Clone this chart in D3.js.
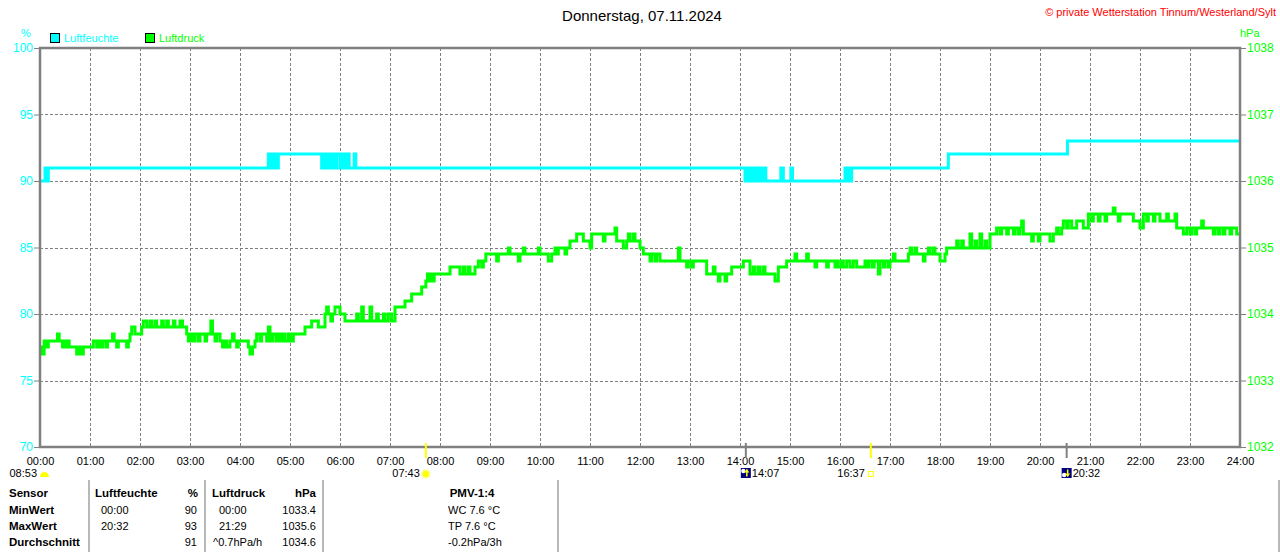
<!DOCTYPE html>
<html>
<head>
    <meta charset="utf-8">
    <title>Donnerstag, 07.11.2024</title>
    <script src="https://cdnjs.cloudflare.com/ajax/libs/d3/7.8.5/d3.min.js"></script>
    <style>
        body { margin: 0; background: #fff; }
        svg { display: block; font-family: "Liberation Sans", Arial, sans-serif; }
    </style>
</head>
<body>
    <div id="chart"></div>

    <script>
        // ---- data ----
        const title = "Donnerstag, 07.11.2024"
        const copyright = "© private Wetterstation Tinnum/Westerland/Sylt"
        const hourLabels = ["00:00", "01:00", "02:00", "03:00", "04:00", "05:00", "06:00", "07:00", "08:00",
            "09:00", "10:00", "11:00", "12:00", "13:00", "14:00", "15:00", "16:00", "17:00", "18:00",
            "19:00", "20:00", "21:00", "22:00", "23:00", "24:00"]
        const humTicks = [70, 75, 80, 85, 90, 95, 100]
        const pressTicks = [1032, 1033, 1034, 1035, 1036, 1037, 1038]

        // humidity %, [minute of day, value] change points
        const humidity = [[0, 90], [6, 91], [7, 90], [8, 91], [9, 90], [10, 91],
            [274, 92], [276, 91], [278, 92], [280, 91], [282, 92], [284, 91], [286, 92],
            [338, 91], [340, 92], [343, 91], [345, 92], [348, 91], [350, 92], [353, 91], [356, 92],
            [360, 91], [363, 92], [366, 91], [368, 92], [371, 91], [377, 92], [379, 91],
            [846, 90], [848, 91], [850, 90], [853, 91], [855, 90], [858, 91], [860, 90], [863, 91],
            [866, 90], [869, 91], [871, 90], [889, 91], [892, 90], [901, 91], [903, 90],
            [966, 91], [968, 90], [970, 91], [972, 90], [974, 91],
            [1090, 92], [1233, 93], [1440, 93]]

        // pressure hPa, [minute of day, value] change points
        const pressure = [[0, 1033.4], [2, 1033.5], [3, 1033.4], [5, 1033.6], [8, 1033.5], [10, 1033.6],
            [21, 1033.7], [23, 1033.6], [27, 1033.5], [29, 1033.6], [31, 1033.5], [33, 1033.6], [35, 1033.5],
            [44, 1033.4], [47, 1033.5], [49, 1033.4], [52, 1033.5], [64, 1033.6], [68, 1033.5], [70, 1033.6],
            [73, 1033.5], [75, 1033.6], [79, 1033.5], [81, 1033.6], [87, 1033.7], [89, 1033.6], [92, 1033.5],
            [94, 1033.6], [104, 1033.5], [106, 1033.6], [108, 1033.7], [110, 1033.8], [114, 1033.7],
            [122, 1033.8], [124, 1033.9], [128, 1033.8], [132, 1033.9], [134, 1033.8], [138, 1033.9],
            [140, 1033.8], [146, 1033.9], [148, 1033.8], [152, 1033.9], [154, 1033.8], [160, 1033.9],
            [162, 1033.8], [168, 1033.9], [171, 1033.8], [176, 1033.7], [178, 1033.6], [180, 1033.7],
            [183, 1033.6], [186, 1033.7], [190, 1033.6], [192, 1033.7], [198, 1033.6], [200, 1033.7],
            [205, 1033.9], [207, 1033.7], [210, 1033.6], [212, 1033.7], [216, 1033.6], [219, 1033.5],
            [221, 1033.6], [224, 1033.5], [228, 1033.6], [231, 1033.7], [233, 1033.6], [236, 1033.5],
            [238, 1033.6], [250, 1033.5], [252, 1033.4], [255, 1033.5], [258, 1033.6], [260, 1033.7],
            [264, 1033.6], [266, 1033.7], [272, 1033.6], [274, 1033.8], [276, 1033.6], [279, 1033.7],
            [283, 1033.6], [285, 1033.7], [288, 1033.6], [291, 1033.7], [294, 1033.6], [298, 1033.7],
            [301, 1033.6], [304, 1033.7], [318, 1033.8], [326, 1033.9], [334, 1033.8], [342, 1034.0],
            [344, 1034.1], [346, 1034.0], [349, 1033.9], [351, 1034.0], [354, 1034.1], [360, 1034.0],
            [366, 1033.9], [380, 1034.0], [382, 1033.9], [386, 1034.1], [388, 1033.9], [396, 1034.1],
            [398, 1033.9], [404, 1034.0], [406, 1033.9], [412, 1034.0], [414, 1033.9], [418, 1034.0],
            [422, 1033.9], [426, 1034.1], [438, 1034.2], [446, 1034.3], [458, 1034.4], [463, 1034.5],
            [465, 1034.6], [467, 1034.5], [469, 1034.6], [471, 1034.5], [473, 1034.6], [492, 1034.7],
            [504, 1034.6], [508, 1034.7], [510, 1034.6], [514, 1034.7], [516, 1034.6], [522, 1034.7],
            [526, 1034.8], [530, 1034.7], [532, 1034.8], [535, 1034.9], [548, 1034.8], [550, 1034.9],
            [562, 1035.0], [564, 1034.9], [574, 1034.8], [576, 1034.9], [580, 1035.0], [582, 1034.9],
            [598, 1035.0], [600, 1034.9], [610, 1034.8], [614, 1034.9], [618, 1035.0], [620, 1034.9],
            [622, 1035.0], [630, 1034.9], [632, 1035.0], [636, 1035.1], [644, 1035.2], [652, 1035.1],
            [660, 1035.0], [662, 1035.2], [676, 1035.1], [678, 1035.2], [690, 1035.3], [692, 1035.1],
            [700, 1035.0], [704, 1035.1], [706, 1035.2], [708, 1035.1], [712, 1035.2], [714, 1035.1],
            [720, 1035.0], [724, 1034.9], [732, 1034.8], [734, 1034.9], [738, 1034.8], [740, 1034.9],
            [744, 1034.8], [766, 1035.0], [768, 1034.8], [776, 1034.7], [778, 1034.8], [782, 1034.7],
            [784, 1034.8], [800, 1034.6], [808, 1034.7], [810, 1034.6], [814, 1034.5], [816, 1034.6],
            [822, 1034.5], [824, 1034.6], [830, 1034.7], [844, 1034.8], [852, 1034.6], [856, 1034.7],
            [858, 1034.6], [862, 1034.7], [864, 1034.6], [868, 1034.7], [870, 1034.6], [882, 1034.5],
            [886, 1034.7], [896, 1034.8], [906, 1034.9], [908, 1034.8], [920, 1034.9], [922, 1034.8],
            [930, 1034.7], [932, 1034.8], [944, 1034.7], [946, 1034.8], [954, 1034.7], [956, 1034.8],
            [958, 1034.7], [962, 1034.8], [964, 1034.7], [968, 1034.8], [972, 1034.7], [976, 1034.8],
            [980, 1034.7], [990, 1034.8], [993, 1034.7], [995, 1034.8], [999, 1034.7], [1001, 1034.8],
            [1006, 1034.6], [1008, 1034.8], [1012, 1034.7], [1014, 1034.8], [1018, 1034.7], [1020, 1034.8],
            [1024, 1034.9], [1026, 1034.8], [1042, 1034.9], [1044, 1035.0], [1046, 1034.9], [1050, 1035.0],
            [1052, 1034.9], [1060, 1034.8], [1062, 1034.9], [1066, 1035.0], [1068, 1034.9], [1072, 1035.0],
            [1074, 1034.9], [1080, 1034.8], [1086, 1034.9], [1088, 1035.0], [1100, 1035.1], [1102, 1035.0],
            [1106, 1035.1], [1108, 1035.0], [1116, 1035.2], [1118, 1035.0], [1122, 1035.1], [1124, 1035.0],
            [1128, 1035.2], [1130, 1035.0], [1134, 1035.1], [1136, 1035.0], [1140, 1035.2], [1148, 1035.3],
            [1152, 1035.2], [1154, 1035.3], [1160, 1035.2], [1162, 1035.3], [1168, 1035.2], [1170, 1035.3],
            [1174, 1035.2], [1176, 1035.3], [1178, 1035.4], [1180, 1035.2], [1190, 1035.1], [1192, 1035.2],
            [1198, 1035.1], [1200, 1035.2], [1212, 1035.1], [1216, 1035.2], [1220, 1035.3], [1222, 1035.2],
            [1226, 1035.3], [1228, 1035.4], [1232, 1035.3], [1234, 1035.4], [1238, 1035.3], [1244, 1035.4],
            [1252, 1035.3], [1258, 1035.5], [1262, 1035.4], [1264, 1035.5], [1270, 1035.4], [1272, 1035.5],
            [1278, 1035.4], [1280, 1035.5], [1288, 1035.6], [1290, 1035.5], [1294, 1035.4], [1296, 1035.5],
            [1312, 1035.4], [1320, 1035.3], [1324, 1035.5], [1328, 1035.4], [1330, 1035.5], [1336, 1035.4],
            [1338, 1035.5], [1344, 1035.4], [1352, 1035.5], [1354, 1035.4], [1362, 1035.5], [1364, 1035.3],
            [1372, 1035.2], [1376, 1035.3], [1380, 1035.2], [1382, 1035.3], [1386, 1035.2], [1388, 1035.3],
            [1394, 1035.4], [1396, 1035.3], [1408, 1035.2], [1410, 1035.3], [1414, 1035.2], [1416, 1035.3],
            [1420, 1035.2], [1422, 1035.3], [1428, 1035.2], [1430, 1035.3], [1436, 1035.2], [1440, 1035.2]]

        // sun / moon events
        const dayLength = "08:53"
        const events = [
            { time: "07:43", kind: "sunrise" },
            { time: "14:07", kind: "moonrise" },
            { time: "16:37", kind: "sunset" },
            { time: "20:32", kind: "moonset" }
        ]

        // table below the chart
        const tableHead = ["Sensor", "Luftfeuchte", "%", "Luftdruck", "hPa", "PMV-1:4"]
        const rowLabels = ["MinWert", "MaxWert", "Durchschnitt"]
        const humTimes = ["00:00", "20:32", ""]
        const humVals = ["90", "93", "91"]
        const pressTimes = ["00:00", "21:29", "^0.7hPa/h"]
        const pressVals = ["1033.4", "1035.6", "1034.6"]
        const pmvVals = ["WC 7.6 °C", "TP 7.6 °C", "-0.2hPa/3h"]

        // ---- drawing ----
        const W = 1280, H = 552
        const CYAN = "#00ffff", GREEN = "#00ff00", GRAY = "#808080"
        const pLeft = 40, pRight = 1240, pTop = 48, pBottom = 447

        let svg = d3.select("#chart").append("svg").attr("width", W).attr("height", H)

        let x = d3.scaleLinear().domain([0, 1440]).range([pLeft, pRight])
        let yHum = d3.scaleLinear().domain([70, 100]).range([pBottom, pTop])
        let yPress = d3.scaleLinear().domain([1032, 1038]).range([pBottom, pTop])

        let toMin = s => { let p = s.split(":"); return +p[0] * 60 + +p[1] }
        let isMoon = e => e.kind === "moonrise" || e.kind === "moonset"

        // grid
        let grid = svg.append("g").attr("stroke", GRAY).attr("stroke-dasharray", "3,2").attr("stroke-width", 1)
        hourLabels.forEach(function (lab, i) {
            if (i === 0 || i === 24) return
            grid.append("line").attr("x1", x(i * 60) + .5).attr("x2", x(i * 60) + .5)
                .attr("y1", pTop).attr("y2", pBottom)
        })
        humTicks.forEach(function (v) {
            if (v === 70 || v === 100) return
            grid.append("line").attr("x1", pLeft).attr("x2", pRight)
                .attr("y1", Math.round(yHum(v)) + .5).attr("y2", Math.round(yHum(v)) + .5)
        })

        // lines
        let line = (ys) => d3.line().x(d => x(d[0])).y(d => Math.round(ys(d[1]))).curve(d3.curveStepAfter)

        svg.append("path").datum(pressure).attr("d", line(yPress))
            .attr("fill", "none").attr("stroke", GREEN).attr("stroke-width", 3)
        svg.append("path").datum(humidity).attr("d", line(yHum))
            .attr("fill", "none").attr("stroke", CYAN).attr("stroke-width", 3)

        // frame
        svg.append("rect").attr("x", pLeft).attr("y", pTop).attr("width", pRight - pLeft).attr("height", pBottom - pTop)
            .attr("fill", "none").attr("stroke", GRAY).attr("stroke-width", 2.5)

        // left axis
        let axL = svg.append("g").attr("transform", `translate(${pLeft - 1},0)`)
            .call(d3.axisLeft(yHum).tickValues(humTicks).tickSize(5).tickPadding(1))
        axL.select(".domain").remove()
        axL.selectAll("line").attr("stroke", GRAY)
        axL.selectAll("text").attr("fill", CYAN).style("font-size", "12px").style("font-family", "Liberation Sans, Arial")

        // right axis
        let axR = svg.append("g").attr("transform", `translate(${pRight + 1},0)`)
            .call(d3.axisRight(yPress).tickValues(pressTicks).tickSize(5).tickPadding(1).tickFormat(d3.format("d")))
        axR.select(".domain").remove()
        axR.selectAll("line").attr("stroke", GRAY)
        axR.selectAll("text").attr("fill", GREEN).style("font-size", "12px").style("font-family", "Liberation Sans, Arial")

        // time axis
        let axB = svg.append("g").attr("transform", `translate(0,${pBottom})`)
            .call(d3.axisBottom(x).tickValues(d3.range(0, 1441, 60)).tickSize(0).tickPadding(10)
                .tickFormat((d, i) => hourLabels[i]))
        axB.select(".domain").remove()
        axB.selectAll("text").attr("fill", "#000").style("font-size", "11px").style("font-family", "Liberation Sans, Arial")

        // units
        svg.append("text").attr("x", 26).attr("y", 37).attr("text-anchor", "middle")
            .attr("fill", CYAN).style("font-size", "11px").text("%")
        svg.append("text").attr("x", 1240).attr("y", 37)
            .attr("fill", GREEN).style("font-size", "11px").text("hPa")

        // title + copyright
        svg.append("text").attr("x", 642).attr("y", 21).attr("text-anchor", "middle")
            .style("font-size", "15px").attr("fill", "#000").text(title)
        svg.append("text").attr("x", 1276).attr("y", 16).attr("text-anchor", "end")
            .style("font-size", "11px").attr("fill", "#ff0000").text(copyright)

        // legend
        let legend = [{ name: "Luftfeuchte", color: CYAN, x: 50 }, { name: "Luftdruck", color: GREEN, x: 145 }]
        legend.forEach(function (l) {
            svg.append("rect").attr("x", l.x + .5).attr("y", 33.5).attr("width", 9).attr("height", 9)
                .attr("fill", l.color).attr("stroke", "#000").attr("stroke-width", 1)
            svg.append("text").attr("x", l.x + 14).attr("y", 42).attr("fill", l.color)
                .style("font-size", "11px").text(l.name)
        })

        // sun / moon markers
        let ev = svg.append("g")
        ev.append("text").attr("x", 37).attr("y", 477).attr("text-anchor", "end").style("font-size", "11px").text(dayLength)
        ev.append("path").attr("d", "M40,477 A4.5,5 0 0 1 49,477 Z").attr("fill", "#ffff00")

        events.forEach(function (e) {
            let ex = x(toMin(e.time))
            let isSun = !isMoon(e)
            ev.append("line").attr("x1", ex).attr("x2", ex).attr("y1", 443).attr("y2", 458)
                .attr("stroke", isSun ? "#ffff00" : GRAY).attr("stroke-width", 2)
            if (e.kind === "sunrise") {
                ev.append("circle").attr("cx", ex).attr("cy", 474).attr("r", 5).attr("fill", "#ffffb0")
                ev.append("circle").attr("cx", ex).attr("cy", 474).attr("r", 3.2).attr("fill", "#ffff00")
            }
            if (e.kind === "sunset") {
                ev.append("rect").attr("x", ex - 2.5).attr("y", 471.5).attr("width", 5).attr("height", 5)
                    .attr("fill", "none").attr("stroke", "#ffff00").attr("stroke-width", 1)
            }
            if (isMoon(e)) {
                let rising = e.kind === "moonrise"
                ev.append("rect").attr("x", ex - 5).attr("y", 468).attr("width", 10).attr("height", 10).attr("fill", "#000080")
                ev.append("circle").attr("cx", ex - 2.5).attr("cy", rising ? 471 : 475).attr("r", 2.2).attr("fill", "#fff")
                ev.append("line").attr("x1", ex + 1).attr("x2", ex + 1).attr("y1", 469.5).attr("y2", 476.5)
                    .attr("stroke", "#ffff00").attr("stroke-width", 1.5)
                ev.append("path").attr("fill", "#ffff00")
                    .attr("d", rising ? `M${ex - 1.5},472.5 L${ex + 1},469 L${ex + 3.5},472.5 Z`
                        : `M${ex - 1.5},473.5 L${ex + 1},477 L${ex + 3.5},473.5 Z`)
            }
            let lab = ev.append("text").attr("y", 477).style("font-size", "11px").text(e.time)
            if (isMoon(e)) lab.attr("x", ex + 6)
            else lab.attr("x", ex - 6).attr("text-anchor", "end")
        })

        // table
        let tbl = svg.append("g").style("font-size", "11px").attr("fill", "#000")
        let dividers = [89, 205, 323, 558, 1279]
        dividers.forEach(function (dx) {
            tbl.append("line").attr("x1", dx).attr("x2", dx).attr("y1", 480).attr("y2", H)
                .attr("stroke", "#a0a0a0").attr("stroke-width", 1.5)
        })
        let rowY = [497, 514, 530, 546]
        let bold = (t) => t.style("font-weight", "bold").style("font-size", "11.5px")

        bold(tbl.append("text").attr("x", 9).attr("y", rowY[0]).text(tableHead[0]))
        bold(tbl.append("text").attr("x", 95).attr("y", rowY[0]).text(tableHead[1]))
        bold(tbl.append("text").attr("x", 198).attr("y", rowY[0]).attr("text-anchor", "end").text(tableHead[2]))
        bold(tbl.append("text").attr("x", 212).attr("y", rowY[0]).text(tableHead[3]))
        bold(tbl.append("text").attr("x", 316).attr("y", rowY[0]).attr("text-anchor", "end").text(tableHead[4]))
        bold(tbl.append("text").attr("x", 472).attr("y", rowY[0]).attr("text-anchor", "middle").text(tableHead[5]))

        rowLabels.forEach(function (r, i) {
            let yy = rowY[i + 1]
            bold(tbl.append("text").attr("x", 9).attr("y", yy).text(r))
            tbl.append("text").attr("x", 101).attr("y", yy).text(humTimes[i])
            tbl.append("text").attr("x", 197).attr("y", yy).attr("text-anchor", "end").text(humVals[i])
            tbl.append("text").attr("x", pressTimes[i].startsWith("^") ? 213 : 219).attr("y", yy).text(pressTimes[i])
            tbl.append("text").attr("x", 316).attr("y", yy).attr("text-anchor", "end").text(pressVals[i])
            tbl.append("text").attr("x", 448).attr("y", yy).text(pmvVals[i])
        })
    </script>
</body>
</html>
